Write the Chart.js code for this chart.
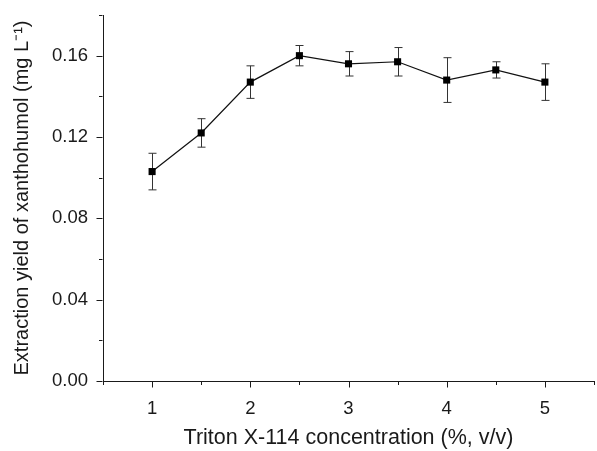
<!DOCTYPE html>
<html>
<head>
<meta charset="utf-8">
<script src="https://cdn.jsdelivr.net/npm/chart.js@4"></script>
<style>
  html, body { margin: 0; padding: 0; background: #fff; overflow: hidden; }
  #wrap { width: 599px; height: 451px; }
</style>
</head>
<body>
<div id="wrap"><canvas id="c" width="599" height="451"></canvas></div>
<script>
// ---- data ----
const concentration = [1, 1.5, 2, 2.5, 3, 3.5, 4, 4.5, 5];
const extractionYield = [0.103, 0.122, 0.147, 0.160, 0.156, 0.157, 0.148, 0.153, 0.147];
const yieldError = [0.009, 0.007, 0.008, 0.005, 0.006, 0.007, 0.011, 0.004, 0.009];
const xMajorTicks = [1, 2, 3, 4, 5];
const xMinorTicks = [0.5, 1.5, 2.5, 3.5, 4.5, 5.5];
const yMajorTicks = [0, 0.04, 0.08, 0.12, 0.16];
const yMinorTicks = [0.02, 0.06, 0.10, 0.14, 0.18];
const xTitle = 'Triton X-114 concentration (%, v/v)';
const yTitle = 'Extraction yield of xanthohumol (mg L\u207B\u00B9)';

const AXIS = '#1a1a1a';
const FONT = "'Liberation Sans', Arial, sans-serif";

const errorBars = {
  id: 'errorBars',
  beforeDatasetsDraw(chart) {
    const {ctx, scales: {x, y}} = chart;
    ctx.save();
    ctx.strokeStyle = '#333';
    ctx.lineWidth = 1;
    const cap = 4;
    concentration.forEach((cx, i) => {
      const px = Math.round(x.getPixelForValue(cx)) + 0.5;
      const top = y.getPixelForValue(extractionYield[i] + yieldError[i]);
      const bot = y.getPixelForValue(extractionYield[i] - yieldError[i]);
      ctx.beginPath();
      ctx.moveTo(px, top); ctx.lineTo(px, bot);
      ctx.moveTo(px - cap, top); ctx.lineTo(px + cap, top);
      ctx.moveTo(px - cap, bot); ctx.lineTo(px + cap, bot);
      ctx.stroke();
    });
    ctx.restore();
  }
};

const axisTicks = {
  id: 'axisTicks',
  afterDraw(chart) {
    const {ctx, scales: {x, y}, chartArea} = chart;
    ctx.save();
    ctx.strokeStyle = AXIS;
    ctx.lineWidth = 1;
    const bx = chartArea.bottom + 0.5;
    const lx = chartArea.left - 0.5;
    ctx.beginPath();
    xMajorTicks.forEach(v => {
      const p = Math.round(x.getPixelForValue(v)) + 0.5;
      ctx.moveTo(p, bx); ctx.lineTo(p, bx + 6);
    });
    xMinorTicks.forEach(v => {
      const p = Math.round(x.getPixelForValue(v)) + 0.5;
      ctx.moveTo(p, bx); ctx.lineTo(p, bx + 3.5);
    });
    yMajorTicks.forEach(v => {
      const p = Math.round(y.getPixelForValue(v)) + 0.5;
      ctx.moveTo(lx, p); ctx.lineTo(lx - 6, p);
    });
    yMinorTicks.forEach(v => {
      const p = Math.round(y.getPixelForValue(v)) + 0.5;
      ctx.moveTo(lx, p); ctx.lineTo(lx - 3.5, p);
    });
    ctx.stroke();
    ctx.restore();
  }
};

new Chart(document.getElementById('c'), {
  type: 'scatter',
  data: {
    datasets: [{
      data: concentration.map((c, i) => ({x: c, y: extractionYield[i]})),
      showLine: true,
      borderColor: '#111',
      borderWidth: 1.2,
      backgroundColor: '#000',
      pointStyle: 'rect',
      pointRadius: 5,
      pointBorderWidth: 0,
      pointBackgroundColor: '#000'
    }]
  },
  options: {
    responsive: false,
    animation: false,
    layout: { padding: { top: 15, left: 0, right: 0, bottom: 0 } },
    plugins: { legend: { display: false }, tooltip: { enabled: false } },
    scales: {
      x: {
        type: 'linear',
        min: 0.5, max: 5.5,
        afterBuildTicks(s) { s.ticks = xMajorTicks.map(v => ({value: v})); },
        afterFit(s) { s.height = 70; s.paddingLeft = 0; s.paddingRight = 0; },
        grid: { display: false, drawTicks: false },
        border: { display: true, color: AXIS, width: 1 },
        ticks: { color: '#1a1a1a', font: { family: FONT, size: 18.5 }, padding: 17, maxRotation: 0 },
        title: { display: true, text: xTitle, color: '#1a1a1a', font: { family: FONT, size: 21.5 }, padding: { top: 0, bottom: 0 } }
      },
      y: {
        type: 'linear',
        min: 0, max: 0.18,
        afterBuildTicks(s) { s.ticks = yMajorTicks.map(v => ({value: v})); },
        afterFit(s) { s.width = 103; s.paddingTop = 0; s.paddingBottom = 0; },
        grid: { display: false, drawTicks: false },
        border: { display: true, color: AXIS, width: 1 },
        ticks: { color: '#1a1a1a', font: { family: FONT, size: 18.5 }, padding: 15, callback: v => Number(v).toFixed(2) },
        title: { display: true, text: yTitle, color: '#1a1a1a', font: { family: FONT, size: 20 }, padding: { top: 10, bottom: 0 } }
      }
    }
  },
  plugins: [errorBars, axisTicks]
});
</script>
</body>
</html>
